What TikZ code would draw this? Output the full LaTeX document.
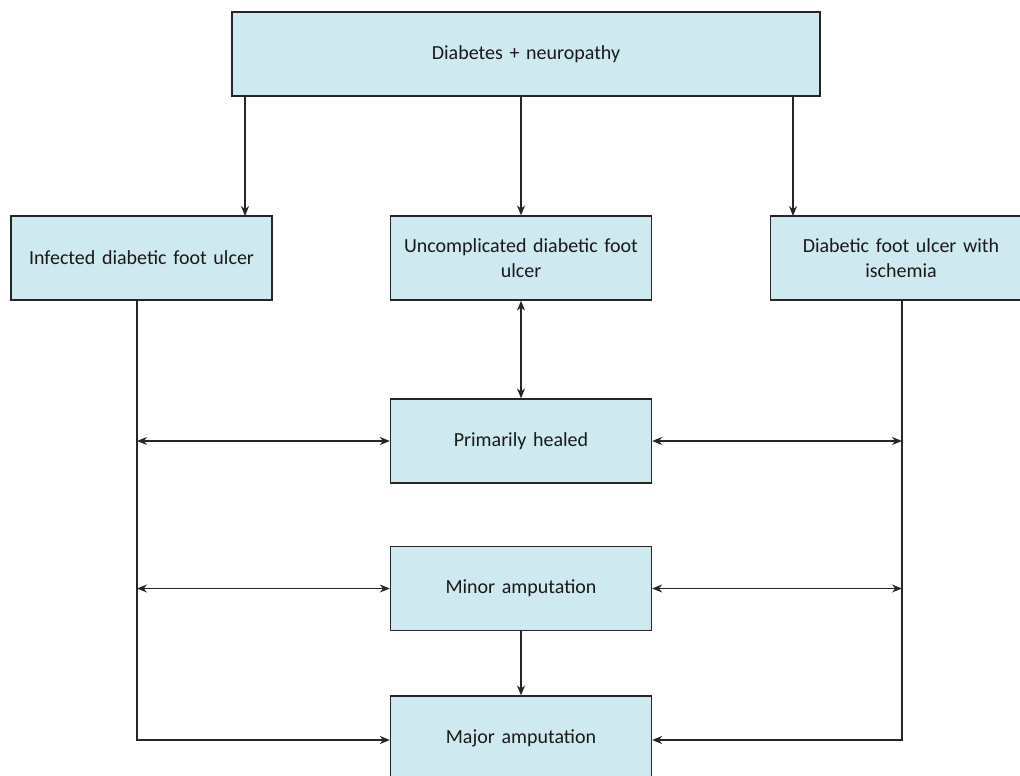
\documentclass[tikz,border=0pt]{standalone}
\usepackage{fontspec}
\setmainfont{Carlito}
\usetikzlibrary{arrows.meta}
\definecolor{boxblue}{RGB}{207,233,240}

\begin{document}
\begin{tikzpicture}[x=1pt, y=-1pt,
    box/.style={draw=black!85, fill=boxblue, line width=1.3pt, minimum width=261pt, minimum height=84pt,
        text width=250pt, align=center, text=black!90, font=\fontsize{20}{25}\selectfont},
    link/.style={line width=1.2pt, draw=black!85, -{Stealth[length=10pt,width=8pt]}},
    both/.style={link, {Stealth[length=10pt,width=8pt]}-{Stealth[length=10pt,width=8pt]}}]
    \useasboundingbox (0,0) rectangle (1020,776);

    % Define node positions (top to bottom)
    \node[box, minimum width=588pt] (diab) at (526,54) {Diabetes + neuropathy};
    \node[box] (inf) at (141.5,258) {Infected diabetic foot ulcer};
    \node[box] (unc) at (521,258) {Uncomplicated diabetic foot\\ulcer};
    \node[box] (isch) at (901,258) {Diabetic foot ulcer with\\ischemia};
    \node[box] (heal) at (521,441) {Primarily healed};
    \node[box] (minor) at (521,588.5) {Minor amputation};
    \node[box] (major) at (521,738) {Major amputation};

    % Free ends of the side lines
    \coordinate (infIn) at (245,216);
    \coordinate (ischIn) at (793,216);
    \coordinate (lbot) at (137,740);
    \coordinate (rbot) at (902,740);

    % Draw edges
    \draw[link] (diab.south -| infIn) -- (infIn);
    \draw[link] (diab.south -| unc.north) -- (unc.north);
    \draw[link] (diab.south -| ischIn) -- (ischIn);
    \draw[both] (unc) -- (heal);
    \draw[link] (minor) -- (major);

    \draw[link] (inf.south -| lbot) -- (lbot) -- (lbot -| major.west);
    \draw[link] (isch.south -| rbot) -- (rbot) -- (rbot -| major.east);
    \draw[both] (lbot |- heal.west) -- (heal.west);
    \draw[both] (lbot |- minor.west) -- (minor.west);
    \draw[both] (heal.east) -- (rbot |- heal.east);
    \draw[both] (minor.east) -- (rbot |- minor.east);
\end{tikzpicture}
\end{document}
